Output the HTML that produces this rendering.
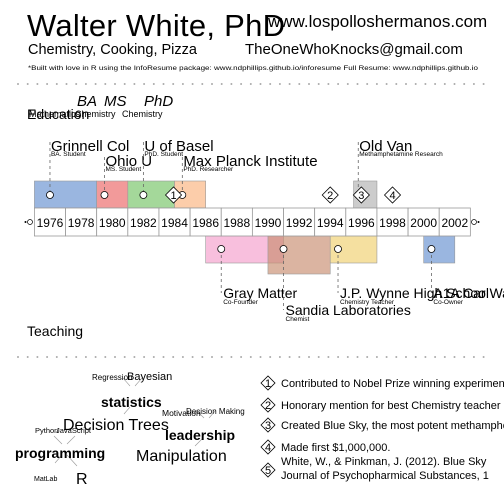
<!DOCTYPE html>
<html><head><meta charset="utf-8"><style>body{margin:0;background:#fff}svg{display:block;font-family:"Liberation Sans",sans-serif}</style></head>
<body>
<svg id="cv" width="504" height="504" viewBox="0 0 504 504">
<g>
<text x="27" y="36" font-size="31" textLength="258">Walter White, PhD</text>
<text x="268" y="27" font-size="17">www.lospolloshermanos.com</text>
<text x="28" y="54" font-size="14.5">Chemistry, Cooking, Pizza</text>
<text x="245" y="54" font-size="15">TheOneWhoKnocks@gmail.com</text>
<text x="28" y="70" font-size="6.8" textLength="450" lengthAdjust="spacingAndGlyphs">*Built with love in R using the InfoResume package: www.ndphillips.github.io/inforesume   Full Resume: www.ndphillips.github.io</text>
</g>
<g id="dots"></g>
<text x="27" y="119" font-size="14">Education</text>
<text x="27" y="336" font-size="14">Teaching</text>
<g>
<text x="77" y="106" font-size="15" font-style="italic">BA</text>
<text x="104" y="106" font-size="15" font-style="italic">MS</text>
<text x="144" y="106" font-size="15" font-style="italic">PhD</text>
<text x="29" y="117" font-size="9">Mathematics</text>
<text x="75" y="117" font-size="9">Chemistry</text>
<text x="122" y="117" font-size="9">Chemistry</text>
</g>
<g id="tl"></g>
<g fill="#000">
<g stroke="#999" stroke-width="0.6">
<line x1="130" y1="386" x2="123" y2="378"/><line x1="135" y1="386" x2="142" y2="378"/>
<line x1="130" y1="407" x2="124" y2="414"/>
<line x1="62" y1="444" x2="54" y2="436"/><line x1="67" y1="444" x2="75" y2="436"/>
<line x1="62" y1="455" x2="55" y2="463"/><line x1="67" y1="455" x2="77" y2="466"/>
<line x1="204" y1="418" x2="196" y2="410"/><line x1="209" y1="418" x2="216" y2="410"/>
<line x1="203" y1="438" x2="195" y2="446"/>
</g>
<text x="92" y="380" font-size="8">Regression</text>
<text x="127" y="380" font-size="11">Bayesian</text>
<text x="101" y="407" font-size="14" font-weight="bold">statistics</text>
<text x="162" y="416" font-size="8.5">Motivation</text>
<text x="186" y="414" font-size="8">Decision Making</text>
<text x="63" y="430" font-size="16">Decision Trees</text>
<text x="35" y="433" font-size="7.5">Python</text>
<text x="56" y="433" font-size="7.5">JavaScript</text>
<text x="165" y="440" font-size="14" font-weight="bold">leadership</text>
<text x="15" y="458" font-size="14" font-weight="bold">programming</text>
<text x="136" y="461" font-size="16">Manipulation</text>
<text x="34" y="481" font-size="7">MatLab</text>
<text x="76" y="484" font-size="16">R</text>
</g>
<g id="legend"></g>
</svg>
<script>
const eduNames=["Grinnell Col","Ohio U","U of Basel","Max Planck Institute","Old Van"];
const eduRoles=["BA. Student","MS. Student","PhD. Student","PhD. Researcher","Methamphetamine Research"];
const eduStart=[1975,1979,1981,1984,1995.5];
const eduEnd=[1979,1981,1984,1986,1997];
const eduPoint=[1976,1979.5,1982,1984.5,1995.8];
const eduColors=["#9ab6e0","#f29a9a","#a4d89a","#fccdaa","#cccccc"];
const eduLevel=[0,1,0,1,0];
const workNames=["Gray Matter","Sandia Laboratories","J.P. Wynne High School","A1A Car Wash"];
const workRoles=["Co-Founder","Chemist","Chemistry Teacher","Co-Owner"];
const workStart=[1986,1990,1994,2000];
const workEnd=[1991,1994,1997,2002];
const workPoint=[1987,1991,1994.5,2000.5];
const workColors=["rgba(246,170,210,0.75)","rgba(200,140,110,0.65)","#f5e0a0","#9ab6e0"];
const workLevel=[0,1,0,0];
const workDepth=[27,38,27,27];
const tickYears=[1976,1978,1980,1982,1984,1986,1988,1990,1992,1994,1996,1998,2000,2002];
const eventIds=[1,2,3,4];
const eventYears=[1984,1994,1996,1998];
const legendText=["Contributed to Nobel Prize winning experiment","Honorary mention for best Chemistry teacher","Created Blue Sky, the most potent methamphetamine","Made first $1,000,000.","White, W., & Pinkman, J. (2012). Blue Sky","Journal of Psychopharmical Substances, 1"];

const NS="http://www.w3.org/2000/svg";
const X=y=>34.4+(y-1975)*15.57;
function mk(tag,at,p,txt){const e=document.createElementNS(NS,tag);for(const k in at)e.setAttribute(k,at[k]);if(txt!==undefined)e.textContent=txt;p.appendChild(e);return e;}
const tl=document.getElementById('tl');
eduNames.forEach((n,i)=>{
 const r=mk('rect',{x:X(eduStart[i]),y:181,width:X(eduEnd[i])-X(eduStart[i]),height:27,fill:eduColors[i],stroke:'#999','stroke-width':0.6},tl);
 
 
});
eduNames.forEach((n,i)=>{
 const px=X(eduPoint[i]);const ly=eduLevel[i]?167:152;
 mk('line',{x1:px,y1:ly-10,x2:px,y2:195,stroke:'#666','stroke-dasharray':'3,3','stroke-width':0.8},tl);
 mk('circle',{cx:px,cy:195,r:3.5,fill:'#fff',stroke:'#000','stroke-width':0.8},tl);
 const t=mk('text',{x:px+1,y:ly-1,'font-size':15},tl,n);
 
 
 mk('text',{x:px+1,y:ly+4,'font-size':6.5},tl,eduRoles[i]);
});
workNames.forEach((n,i)=>{
 const r=mk('rect',{x:X(workStart[i]),y:226,width:X(workEnd[i])-X(workStart[i]),height:workDepth[i]+10,fill:workColors[i],stroke:'#999','stroke-width':0.6},tl);
 
 
});
workNames.forEach((n,i)=>{
 const px=X(workPoint[i]);const ly=workLevel[i]?310:293;
 mk('line',{x1:px,y1:249,x2:px,y2:ly,stroke:'#666','stroke-dasharray':'3,3','stroke-width':0.8},tl);
 mk('circle',{cx:px,cy:249,r:3.5,fill:'#fff',stroke:'#000','stroke-width':0.8},tl);
 const t=mk('text',{x:px+2,y:ly+5,'font-size':14},tl,n);
 
 
 mk('text',{x:px+2,y:ly+11,'font-size':6.5},tl,workRoles[i]);
});
tickYears.forEach(y=>{
 const c=mk('rect',{x:X(y-1),y:208,width:X(y+1)-X(y-1),height:28,fill:'#fff',stroke:'#999','stroke-width':0.8},tl);
 
 
 mk('text',{x:X(y),y:227,'font-size':12,'text-anchor':'middle'},tl,y);
});
mk('circle',{cx:30,cy:222,r:2.5,fill:'#fff',stroke:'#000','stroke-width':0.7},tl);
mk('circle',{cx:25.5,cy:222,r:1,fill:'#000'},tl);
mk('circle',{cx:474,cy:222,r:2.5,fill:'#fff',stroke:'#000','stroke-width':0.7},tl);
mk('circle',{cx:478.5,cy:222,r:1,fill:'#000'},tl);
function diamond(cx,cy,s,label,p){
 const g=mk('g',{},p);
 mk('polygon',{points:`${cx-s},${cy} ${cx},${cy-s} ${cx+s},${cy} ${cx},${cy+s}`,fill:'#fff',stroke:'#000','stroke-width':0.8},g);
 mk('text',{x:cx,y:cy+4,'font-size':11,'text-anchor':'middle'},g,label);
 return g;
}
eventIds.forEach((id,i)=>{
 const g=diamond(X(eventYears[i])+(i==0?-1:0),195,8,id,tl);
 
 
});
const lg=document.getElementById('legend');
const ly=[383,405,425,447];
for(let i=0;i<4;i++){
 const g=diamond(268,ly[i],7,i+1,lg);
 
 
 mk('text',{x:281,y:ly[i]+4,'font-size':11},lg,legendText[i]);
}
const g5=diamond(268,470,7,5,lg);


mk('text',{x:281,y:465,'font-size':11},lg,legendText[4]);
mk('text',{x:281,y:479,'font-size':11},lg,legendText[5]);
const d=document.getElementById('dots');
[84,357].forEach(yy=>{for(let x=18;x<=484;x+=9.7)mk('circle',{cx:x,cy:yy,r:1,fill:'#aaa'},d);});
</script>
</body></html>
